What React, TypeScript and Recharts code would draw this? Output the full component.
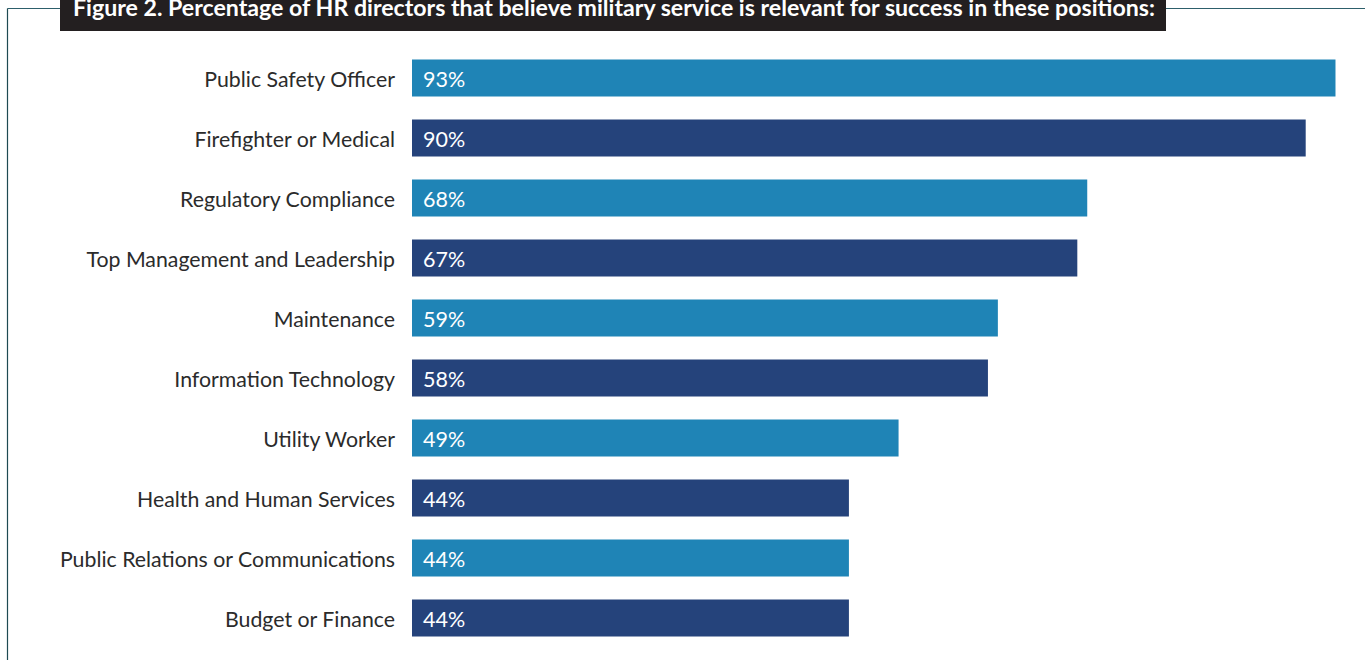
import React from "react";
import { BarChart, Bar, XAxis, YAxis, Cell, LabelList } from "recharts";

const categories = [
  "Public Safety Officer",
  "Firefighter or Medical",
  "Regulatory Compliance",
  "Top Management and Leadership",
  "Maintenance",
  "Information Technology",
  "Utility Worker",
  "Health and Human Services",
  "Public Relations or Communications",
  "Budget or Finance",
];
const values = [93, 90, 68, 67, 59, 58, 49, 44, 44, 44];
const barColors = ["#1f84b6", "#25437b"];
const title =
  "Figure 2. Percentage of HR directors that believe military service is relevant for success in these positions:";

const data = categories.map((name, i) => ({ name, value: values[i] }));

const FONT = "Lato, 'Open Sans', sans-serif";

const CategoryTick = (props: any) => {
  const { x, y, payload } = props;
  return (
    <text
      x={x}
      y={y + 1}
      textAnchor="end"
      dominantBaseline="central"
      fill="#2b2b2b"
      fontSize={21.3}
      fontFamily={FONT}
    >
      {payload.value}
    </text>
  );
};

const ValueLabel = (props: any) => {
  const { x, y, height, value } = props;
  return (
    <text
      x={Number(x) + 11}
      y={Number(y) + Number(height) / 2 + 1}
      dominantBaseline="central"
      fill="#ffffff"
      fontSize={21.5}
      fontFamily={FONT}
    >
      {`${value}%`}
    </text>
  );
};

export default function App() {
  return (
    <div
      style={{
        position: "absolute",
        left: 0,
        top: 0,
        width: 1365,
        height: 660,
        overflow: "hidden",
        background: "#fff",
        fontFamily: FONT,
      }}
    >
      <BarChart
        width={1405}
        height={660}
        data={data}
        layout="vertical"
        margin={{ top: 47.5, right: 0, bottom: 12.5, left: 0 }}
        barCategoryGap={11.5}
      >
        <XAxis type="number" domain={[0, 100]} hide />
        <YAxis
          type="category"
          dataKey="name"
          width={412}
          axisLine={false}
          tickLine={false}
          tickSize={0}
          tickMargin={17}
          interval={0}
          tick={<CategoryTick />}
        />
        <Bar dataKey="value" barSize={37} isAnimationActive={false}>
          {data.map((d, i) => (
            <Cell key={d.name} fill={barColors[i % 2]} />
          ))}
          <LabelList dataKey="value" content={<ValueLabel />} />
        </Bar>
      </BarChart>
      <svg
        width={1365}
        height={660}
        style={{ position: "absolute", left: 0, top: 0, pointerEvents: "none" }}
      >
        <line x1={7.5} y1={8.5} x2={60} y2={8.5} stroke="#2d5f6b" strokeWidth={1.2} />
        <line x1={1166} y1={8.5} x2={1365} y2={8.5} stroke="#2d5f6b" strokeWidth={1.2} />
        <line x1={7.5} y1={8.5} x2={7.5} y2={660} stroke="#1e4a52" strokeWidth={1.2} />
        <rect x={60} y={0} width={1106} height={31} fill="#231f20" />
        <text
          x={73}
          y={16}
          fill="#ffffff"
          fontSize={23}
          fontWeight={700}
          fontFamily={FONT}
          textLength={1082}
          lengthAdjust="spacingAndGlyphs"
        >
          {title}
        </text>
      </svg>
    </div>
  );
}
